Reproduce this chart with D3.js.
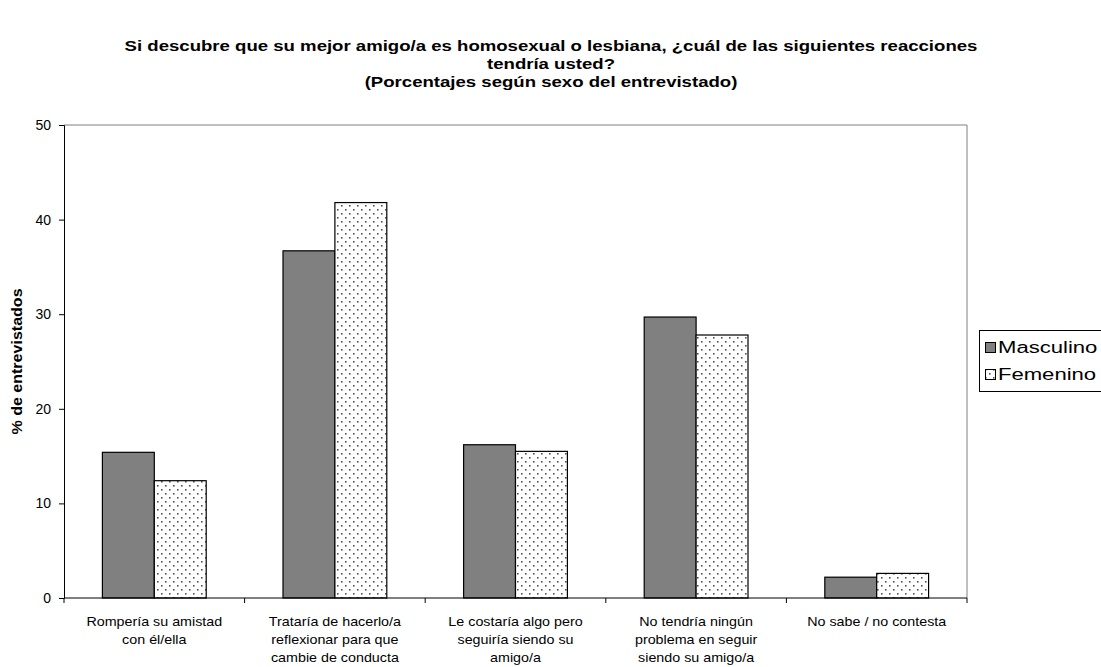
<!DOCTYPE html>
<html>
<head>
<meta charset="utf-8">
<script src="https://cdn.jsdelivr.net/npm/d3@7"></script>
<style>
  body { margin: 0; background: #fff; }
  svg { font-family: "Liberation Sans", Arial, sans-serif; }
</style>
</head>
<body>
<svg id="chart" width="1101" height="667"></svg>
<script>
const titleLines = [
  "Si descubre que su mejor amigo/a es homosexual o lesbiana, ¿cuál de las siguientes reacciones",
  "tendría usted?",
  "(Porcentajes según sexo del entrevistado)"
];
const categories = [
  ["Rompería su amistad", "con él/ella"],
  ["Trataría de hacerlo/a", "reflexionar para que", "cambie de conducta"],
  ["Le costaría algo pero", "seguiría siendo su", "amigo/a"],
  ["No tendría ningún", "problema en seguir", "siendo su amigo/a"],
  ["No sabe / no contesta"]
];
const seriesNames = ["Masculino", "Femenino"];
const masculino = [15.4, 36.7, 16.2, 29.7, 2.2];
const femenino = [12.4, 41.8, 15.5, 27.8, 2.6];
const yTicks = [0, 10, 20, 30, 40, 50];
const yLabel = "% de entrevistados";

const svg = d3.select("#chart");
const margin = { left: 64, top: 125, right: 967, bottom: 598 };

const defs = svg.append("defs");
const pat = defs.append("pattern")
  .attr("id", "dots").attr("patternUnits", "userSpaceOnUse")
  .attr("width", 8).attr("height", 8);
pat.append("rect").attr("width", 8).attr("height", 8).attr("fill", "#fff");
pat.append("rect").attr("x", 1).attr("y", 1).attr("width", 1.6).attr("height", 1.6).attr("fill", "#555");
pat.append("rect").attr("x", 5).attr("y", 5).attr("width", 1.6).attr("height", 1.6).attr("fill", "#555");

const idx = d3.range(categories.length);
const x = d3.scaleBand().domain(idx).range([margin.left, margin.right]).paddingInner(0).paddingOuter(0);
const inner = d3.scaleBand().domain([0, 1]).range([0, x.bandwidth()]).paddingOuter(0.74).paddingInner(0);
const y = d3.scaleLinear().domain([0, 50]).range([margin.bottom, margin.top]);

// stretched text helper
function sText(parent, tx, ty, sx, str, opts) {
  const g = parent.append("g").attr("transform", `translate(${tx},${ty}) scale(${sx},1)`);
  const t = g.append("text").attr("x", 0).attr("y", 0)
    .attr("text-anchor", opts.anchor || "middle")
    .attr("font-size", opts.size)
    .attr("font-weight", opts.bold ? "bold" : "normal")
    .attr("fill", "#000")
    .text(str);
  return t;
}

// title
titleLines.forEach((t, i) => {
  sText(svg, 551, 51 + i * 18, 1.24, t, { size: 15, bold: true });
});

// plot border (top & right gray)
svg.append("path")
  .attr("d", `M${margin.left},${margin.top}H${margin.right}V${margin.bottom}`)
  .attr("fill", "none").attr("stroke", "#808080").attr("stroke-width", 1);

// bars
const series = [masculino, femenino];
const fills = ["#808080", "url(#dots)"];
series.forEach((vals, s) => {
  svg.append("g").selectAll("rect").data(vals).join("rect")
    .attr("x", (d, i) => x(i) + inner(s))
    .attr("y", d => y(d))
    .attr("width", inner.bandwidth())
    .attr("height", d => y(0) - y(d))
    .attr("fill", fills[s])
    .attr("stroke", "#000").attr("stroke-width", 1.2);
});

// y axis
const yAxis = svg.append("g").attr("transform", `translate(${margin.left},0)`)
  .call(d3.axisLeft(y).tickValues(yTicks).tickSize(5).tickPadding(8));
yAxis.select(".domain").attr("stroke", "#000");
yAxis.selectAll("text").attr("font-size", 14).attr("fill", "#000").attr("font-family", "Liberation Sans, Arial, sans-serif");

// x axis
const xAxis = svg.append("g").attr("transform", `translate(0,${margin.bottom})`);
xAxis.append("line").attr("x1", margin.left).attr("x2", margin.right).attr("stroke", "#000");
const bounds = idx.map(i => x(i)).concat([margin.right]);
xAxis.selectAll("line.tk").data(bounds).join("line").attr("class", "tk")
  .attr("x1", d => d).attr("x2", d => d).attr("y1", 0).attr("y2", 5).attr("stroke", "#000");
categories.forEach((lines, i) => {
  lines.forEach((l, j) => {
    sText(xAxis, x(i) + x.bandwidth() / 2, 28 + j * 18, 1.1, l, { size: 13 });
  });
});

// y label
svg.append("g")
  .attr("transform", `translate(22,${(margin.top + margin.bottom) / 2}) rotate(-90) scale(1.07,1)`)
  .append("text").attr("text-anchor", "middle").attr("font-weight", "bold").attr("font-size", 15)
  .text(yLabel);

// legend
const lg = svg.append("g");
lg.append("rect").attr("x", 979.5).attr("y", 330.5).attr("width", 140).attr("height", 61)
  .attr("fill", "#fff").attr("stroke", "#000").attr("stroke-width", 1);
seriesNames.forEach((n, i) => {
  lg.append("rect").attr("x", 985.5).attr("y", 342.5 + i * 27).attr("width", 10).attr("height", 10)
    .attr("fill", fills[i]).attr("stroke", "#000");
  sText(lg, 998, 353 + i * 27, 1.38, n, { size: 16, anchor: "start" });
});
</script>
</body>
</html>
